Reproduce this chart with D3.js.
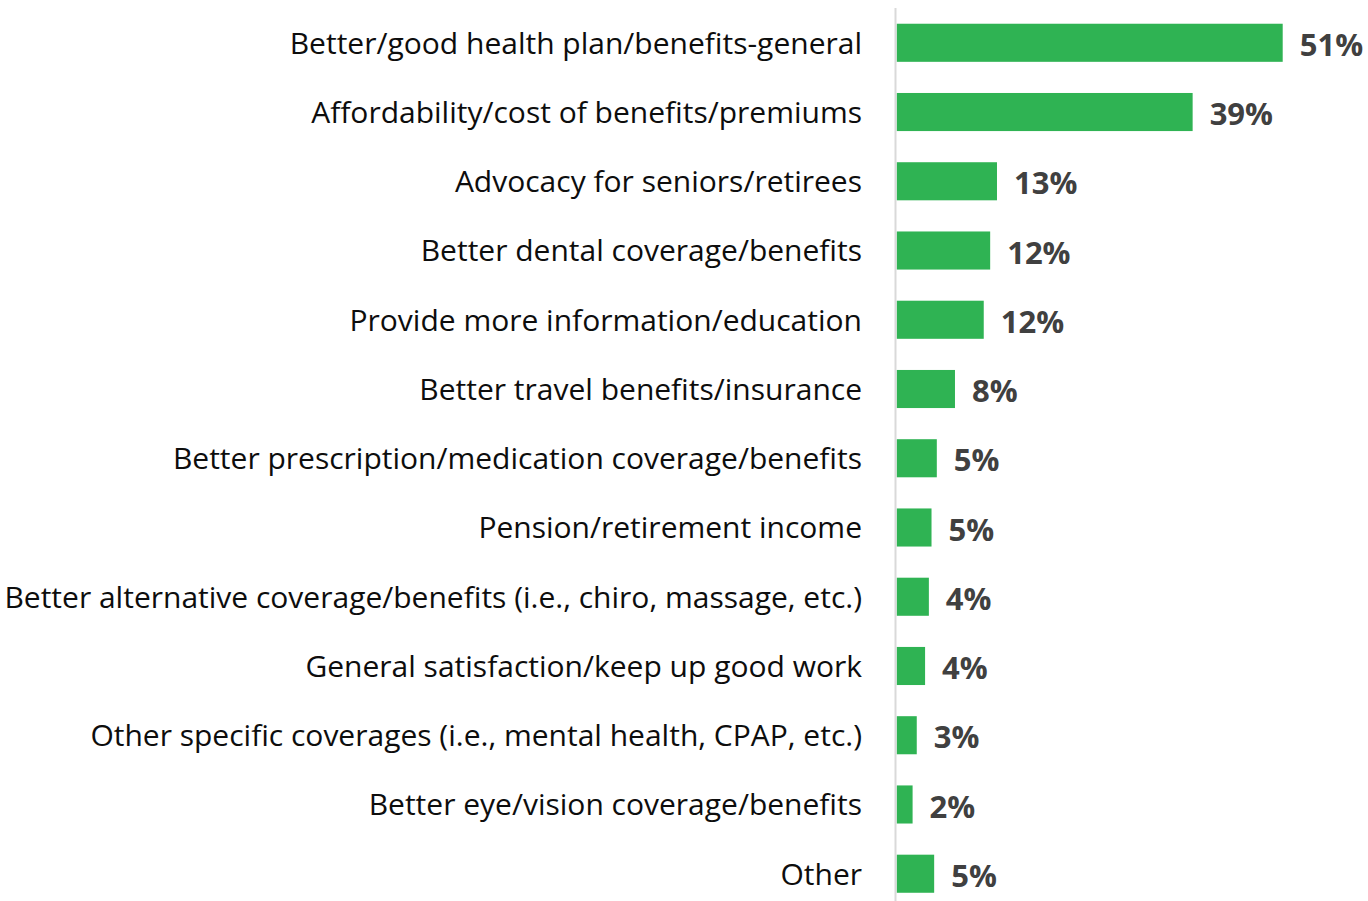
<!DOCTYPE html>
<html>
<head>
<meta charset="utf-8">
<script src="https://cdn.jsdelivr.net/npm/d3@7"></script>
<style>
  html, body { margin: 0; padding: 0; background: #fff; }
  svg { display: block; }
</style>
</head>
<body>
<svg id="chart" width="1368" height="901"></svg>
<script>
// Reasons / suggestions, share of respondents (%)
const categories = [
  "Better/good health plan/benefits-general",
  "Affordability/cost of benefits/premiums",
  "Advocacy for seniors/retirees",
  "Better dental coverage/benefits",
  "Provide more information/education",
  "Better travel benefits/insurance",
  "Better prescription/medication coverage/benefits",
  "Pension/retirement income",
  "Better alternative coverage/benefits (i.e., chiro, massage, etc.)",
  "General satisfaction/keep up good work",
  "Other specific coverages (i.e., mental health, CPAP, etc.)",
  "Better eye/vision coverage/benefits",
  "Other"
];
const values = [51.0, 39.1, 13.25, 12.35, 11.5, 7.7, 5.3, 4.6, 4.25, 3.75, 2.65, 2.1, 4.95];

const fmtPct = (v) => Math.round(v) + "%";

const svg = d3.select("#chart");
const font = "'Open Sans', 'Noto Sans', sans-serif";

const x0 = 896.7;
const x = d3.scaleLinear().domain([0, 51]).range([x0, 1282.7]);
const y = d3.scaleBand()
  .domain(categories)
  .range([8.5, 908])
  .paddingInner(0.45)
  .paddingOuter(0.22);

// Bars
svg.append("g").selectAll("rect")
  .data(categories)
  .join("rect")
  .attr("x", x0)
  .attr("y", (d) => y(d))
  .attr("width", (d, i) => x(values[i]) - x0)
  .attr("height", y.bandwidth())
  .attr("fill", "#2fb353");

// Category axis line
svg.append("line")
  .attr("x1", 895.5).attr("x2", 895.5)
  .attr("y1", 8).attr("y2", 901)
  .attr("stroke", "#d9d9d9")
  .attr("stroke-width", 2);

// Category labels
svg.append("g").selectAll("text")
  .data(categories)
  .join("text")
  .attr("x", 862)
  .attr("y", (d) => y(d) + y.bandwidth() / 2)
  .attr("dy", "0.36em")
  .attr("text-anchor", "end")
  .attr("font-family", font)
  .attr("font-size", 30)
  .attr("fill", "#0d0d0d")
  .text((d) => d);

// Value labels
svg.append("g").selectAll("text")
  .data(categories)
  .join("text")
  .attr("x", (d, i) => x(values[i]) + 17)
  .attr("y", (d) => y(d) + y.bandwidth() / 2 + 2)
  .attr("dy", "0.36em")
  .attr("font-family", font)
  .attr("font-size", 31)
  .attr("font-weight", "bold")
  .attr("fill", "#404040")
  .text((d, i) => fmtPct(values[i]));
</script>
</body>
</html>
